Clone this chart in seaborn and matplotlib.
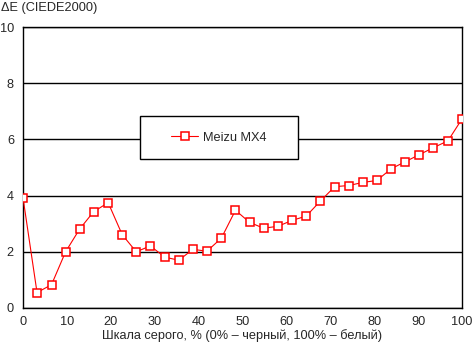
import numpy as np
import pandas as pd
import matplotlib
matplotlib.use("Agg")
import matplotlib.pyplot as plt
import seaborn as sns
from matplotlib.patches import Rectangle

# gray level, % and measured delta E
gray = [0, 3.2, 6.5, 9.7, 12.9, 16.1, 19.4, 22.6, 25.8, 29.0, 32.3, 35.5,
        38.7, 41.9, 45.2, 48.4, 51.6, 54.8, 58.1, 61.3, 64.5, 67.7, 71.0, 74.2,
        77.4, 80.6, 83.9, 87.1, 90.3, 93.5, 96.8, 100]
delta_e = [3.93, 0.55, 0.83, 2.0, 2.81, 3.43, 3.75, 2.61, 2.0, 2.21, 1.81, 1.70,
           2.09, 2.02, 2.49, 3.48, 3.05, 2.84, 2.91, 3.12, 3.27, 3.80, 4.32, 4.36,
           4.47, 4.54, 4.96, 5.21, 5.46, 5.71, 5.95, 6.73]
series_name = "Meizu MX4"
x_ticks = [0, 10, 20, 30, 40, 50, 60, 70, 80, 90, 100]
y_ticks = [0, 2, 4, 6, 8, 10]

df = pd.DataFrame({"gray": gray, "de": delta_e, "name": series_name})

sns.set_style("white")
plt.rcParams["font.family"] = ["Liberation Sans", "DejaVu Sans"]
fs = 9.2

fig = plt.figure(figsize=(4.72, 3.52), dpi=100)
ax = fig.add_axes([0.0487, 0.125, 0.9301, 0.798])

sns.lineplot(data=df, x="gray", y="de", hue="name", palette=["#ff0000"],
             marker="s", markersize=6, markerfacecolor="white",
             markeredgecolor="#ff0000", markeredgewidth=1.1,
             linewidth=0.8, ax=ax, legend=False, zorder=3)

ax.set_xlim(0, 100)
ax.set_ylim(0, 10)
ax.set_xticks(x_ticks)
ax.set_yticks(y_ticks)
ax.yaxis.grid(True, color="black", linewidth=1)
ax.xaxis.grid(False)
for s in ax.spines.values():
    s.set_color("black")
    s.set_linewidth(1)
ax.tick_params(axis="both", direction="out", length=3.5, width=1,
               color="black", labelsize=fs, pad=2)
ax.tick_params(axis="y", pad=3)
ax.set_xlabel("Шкала серого, % (0% – черный, 100% – белый)", fontsize=fs, labelpad=1)
ax.set_ylabel("")
fig.text(0.002, 0.978, "ΔE (CIEDE2000)", fontsize=fs, va="center", ha="left")

# legend box
ax.add_patch(Rectangle((0.267, 0.530), 0.359, 0.153, transform=ax.transAxes,
                       facecolor="white", edgecolor="black", linewidth=1, zorder=4))
h = plt.Line2D([], [], color="#ff0000", marker="s", markersize=6,
               markerfacecolor="white", markeredgecolor="#ff0000",
               markeredgewidth=1.1, linewidth=0.8)
leg = ax.legend([h], [series_name], loc="center", bbox_to_anchor=(0.4465, 0.6065),
                frameon=False, handlelength=2.1, handletextpad=0.4, fontsize=fs)
leg.set_zorder(5)

fig.savefig("out.png", dpi=100)
